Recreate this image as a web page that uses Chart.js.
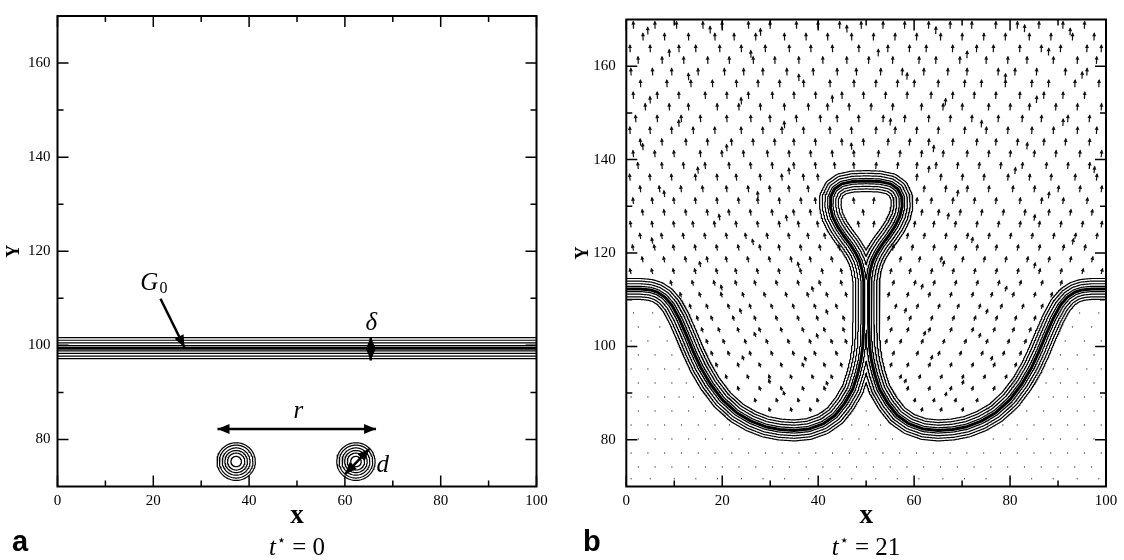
<!DOCTYPE html>
<html lang="en">
<head>
<meta charset="UTF-8">
<title>G-field contours, t* = 0 and t* = 21</title>
<script src="https://cdn.jsdelivr.net/npm/chart.js"></script>
<style>
  body { margin: 0; background: #fff; }
  #wrap { position: relative; width: 1124px; height: 560px; overflow: hidden; }
  .panel { position: absolute; top: 0; width: 562px; height: 560px; }
  .tag { position: absolute; font: bold 29px "Liberation Sans", Arial, sans-serif; line-height: 1; }
  .time { position: absolute; font: 25px "Liberation Serif", "Times New Roman", serif; line-height: 1;
          transform: translateX(-50%); white-space: nowrap; }
  .time .star { font: 15px "DejaVu Sans", sans-serif; position: relative; top: -10px; margin-left: 1px; margin-right: 6px; }
</style>
</head>
<body>
<div id="wrap">
  <div class="panel" style="left:0"><canvas id="chartA" width="562" height="560"></canvas></div>
  <div class="panel" style="left:562px"><canvas id="chartB" width="562" height="560"></canvas></div>
  <div class="tag" style="left:12px; top:527px">a</div>
  <div class="time" style="left:297px; top:534px"><i>t</i><span class="star">⋆</span>= 0</div>
  <div class="tag" style="left:583px; top:527px">b</div>
  <div class="time" style="left:866px; top:534px"><i>t</i><span class="star">⋆</span>= 21</div>
</div>
<script>
// ---------- axes ----------
const xTicks = [0, 20, 40, 60, 80, 100];
const xMinorTicks = [10, 30, 50, 70, 90];
const yTicks = [80, 100, 120, 140, 160];
const yMinorTicks = [90, 110, 130, 150];
// G levels drawn on each side of the front G0
const gLevels = [0.56, 1.12, 1.68, 2.24];

// ---------- panel a (t* = 0) ----------
const frontA = 99.4;
const kernelX = [37.3, 62.3];
const kernelY = [75.3, 75.3];
const kernelRings = [1.1, 1.8, 2.35, 2.9, 3.5, 4.0];
const arrowsA = [
  { from: [21.5, 109.9], to: [26.5, 99.6], heads: 'end' },    // G0 pointer
  { from: [65.4, 101.8], to: [65.4, 96.8], heads: 'both' },   // delta
  { from: [33.4, 82.2], to: [66.5, 82.2], heads: 'both' },    // r
  { from: [60.0, 72.6], to: [65.1, 78.0], heads: 'both' }     // d
];
const mathLabelsA = [
  { text: 'G', sub: '0', x: 17.3, y: 111.8, align: 'left' },
  { text: 'δ', x: 65.5, y: 103.2, align: 'center' },
  { text: 'r', x: 50.3, y: 84.6, align: 'center' },
  { text: 'd', x: 66.6, y: 73.1, align: 'left' }
];

// ---------- panel b (t* = 21) ----------
const frontBX = [0, 3, 5, 6.5, 8, 9.5, 11, 12.5, 14, 15.5, 17.5, 20, 23, 26, 29, 32, 35, 38, 41, 43.5,
  45.5, 47.2, 48.2, 48.9, 49.3, 49.5, 49.5, 49.5, 49.1, 48.6, 47.8, 46.7, 45.3, 44.0, 43.0, 42.5, 42.6, 43.4, 44.9, 47.2,
  50, 52.8, 55.1, 56.6, 57.4, 57.5, 57.0, 56.0, 54.7, 53.3, 52.2, 51.4, 50.9, 50.5, 50.5, 50.5, 50.7, 51.1, 51.8, 52.8,
  54.5, 56.5, 59, 62, 65, 68, 71, 74, 77, 80, 82.5, 84.5, 86, 87.5, 89, 90.5, 92, 93.5, 95, 97, 100];
const frontBY = [112.3, 112.3, 112.1, 111.6, 110.6, 108.8, 106, 102.5, 98.8, 95.5, 92, 88.6, 85.8, 84, 82.8, 82.2, 82, 82.3, 83.4, 85.2,
  87.8, 90.8, 94, 97, 100, 105, 110, 114, 116.5, 118.3, 120, 121.8, 123.7, 125.7, 127.8, 130, 132, 133.7, 134.8, 135.3,
  135.4, 135.3, 134.8, 133.7, 132, 130, 127.8, 125.7, 123.7, 121.8, 120, 118.3, 116.5, 114, 110, 105, 100, 97, 94, 90.8,
  87.8, 85.2, 83.4, 82.3, 82, 82.2, 82.8, 84, 85.8, 88.6, 92, 95.5, 98.8, 102.5, 106, 108.8, 110.6, 111.6, 112.1, 112.3, 112.3];

// velocity arrows: [y, length, outward tilt, x positions]
const quiverRows = [
  [168.0, 1.55, 0.03, [1.5, 6, 10.5, 16, 20, 25.5, 30, 35.5, 40, 44.5, 49, 53.5, 58, 63, 67.5, 72, 77, 81.5, 86, 91, 95.5]],
  [165.5, 1.55, 0.03, [3.5, 8, 13, 18.5, 22.5, 27, 33, 37.5, 42, 47, 51.5, 56, 60.5, 65.5, 70, 74.5, 79, 84, 88.5, 93, 97.5]],
  [163.0, 1.55, 0.03, [0.8, 5, 11, 14.5, 19.5, 24, 29, 34, 38.5, 43, 48.5, 54.5, 59, 62.5, 68, 73, 76.5, 82, 86.5, 90.5, 96, 99]],
  [160.5, 1.55, 0.04, [2.5, 7.5, 12, 17, 21.5, 26.5, 31, 36, 41, 46, 50.5, 55.5, 61, 64.5, 69.5, 75, 79.5, 83.5, 89, 94, 98]],
  [158.0, 1.55, 0.04, [1, 5.5, 9.5, 15, 20.5, 24.5, 28.5, 33.5, 39, 44, 48, 53, 57.5, 62, 67, 71, 77.5, 81, 85.5, 91.5, 96]],
  [155.5, 1.55, 0.04, [3, 8.5, 13.5, 18, 23, 27.5, 32, 37, 42.5, 47.5, 52, 56.5, 60, 65, 70.5, 74, 79, 84.5, 88, 93.5, 98.5]],
  [153.0, 1.5, 0.05, [1.5, 6.5, 11, 16.5, 21, 25.5, 30.5, 35, 39.5, 45, 49.5, 54, 58.5, 63.5, 68, 72.5, 77, 82, 87, 91, 95.5]],
  [150.5, 1.5, 0.05, [4, 9, 13, 19, 23.5, 28, 33, 38, 42, 46.5, 51, 55.5, 61.5, 66, 70, 75.5, 80, 84, 89.5, 94, 99]],
  [148.0, 1.5, 0.06, [2, 6.5, 11.5, 15.5, 21, 26, 30, 35.5, 40.5, 44, 48.5, 53.5, 58, 63, 67.5, 72, 77.5, 82.5, 86.5, 92, 96.5]],
  [145.5, 1.5, 0.06, [0.8, 5, 9.5, 14, 18.5, 24, 28.5, 32.5, 37, 42.5, 47, 52, 56, 60.5, 65, 70.5, 75, 79.5, 84.5, 89, 94, 98]],
  [143.0, 1.45, 0.08, [3, 7.5, 12.5, 17, 22, 26.5, 31, 35, 39.5, 45, 49.5, 54.5, 59, 63, 68, 73, 77, 81.5, 87, 91.5, 96.5]],
  [140.5, 1.45, 0.08, [1.5, 6, 10, 15.5, 20, 24.5, 29.5, 34, 38.5, 43, 47.5, 52.5, 57, 61.5, 66, 71, 75.5, 80, 85, 89.5, 94.5, 99]],
  [138.0, 1.4, 0.1, [2.5, 7.5, 12, 16.5, 21.5, 26, 30.5, 35, 39.5, 43.5, 47.5, 52, 56.5, 60.5, 64.5, 69, 73.5, 78, 82.5, 87.5, 92, 96.5]],
  [135.5, 1.4, 0.1, [0.8, 5, 9.5, 14.5, 19, 23, 28, 32.5, 37, 40, 60.5, 65.5, 70, 74.5, 79.5, 84, 88.5, 93.5, 98]],
  [133.0, 1.4, 0.12, [3, 7, 11.5, 16, 21, 25.5, 30, 34, 38, 62, 66.5, 71, 75.5, 80.5, 85, 90, 94.5, 99]],
  [130.5, 1.35, 0.12, [1.5, 5.5, 10, 14.5, 19, 23.5, 27.5, 32, 36.5, 39.5, 47.5, 51.5, 60.5, 63.5, 68, 72.5, 77, 82, 86.5, 91, 96]],
  [128.0, 1.3, 0.15, [3.5, 8, 12.5, 17, 21.5, 26, 30.5, 35, 38.5, 49.5, 61.5, 65, 69.5, 74, 78.5, 83, 88, 92.5, 97]],
  [125.5, 1.3, 0.15, [1, 5.5, 10, 14, 18.5, 23, 27.5, 32, 36, 40, 48.5, 51.5, 60, 64, 68.5, 73, 77.5, 82, 86, 90.5, 95, 99]],
  [123.0, 1.25, 0.18, [3, 7.5, 12, 16.5, 21, 25, 29.5, 34, 38, 41.5, 58.5, 62, 66.5, 71, 75.5, 80, 84.5, 89, 93.5, 98]],
  [120.5, 1.25, 0.2, [1.5, 6, 10, 14.5, 19, 23.5, 28, 32, 36.5, 40.5, 44.5, 55.5, 59.5, 64, 68.5, 73, 77, 81.5, 86, 91, 95.5]],
  [118.0, 1.2, 0.22, [3.5, 8, 12.5, 17, 21, 25.5, 30, 34.5, 38.5, 43, 57, 61, 65.5, 70, 74.5, 79, 83.5, 88, 92.5, 97]],
  [115.5, 1.15, 0.25, [1, 5.5, 10, 14.5, 19, 23, 27.5, 32, 36.5, 41, 45, 55, 59, 63.5, 68, 72.5, 77, 81.5, 86, 90.5, 95, 99]],
  [113.0, 1.1, 0.28, [9.5, 14, 18.5, 23, 27, 31.5, 36, 40.5, 45, 55.5, 60, 64, 68.5, 73, 77.5, 82, 86.5, 90.5]],
  [110.5, 1.05, 0.3, [11.5, 15.5, 20, 24.5, 29, 33.5, 38, 42, 46, 54.5, 58.5, 63, 67.5, 72, 76, 80.5, 85, 88.5]],
  [108.0, 1.05, 0.32, [13.5, 17, 21.5, 26, 30.5, 35, 39.5, 44, 56, 60.5, 65, 69, 73.5, 78, 82.5, 86.5]],
  [105.5, 1.0, 0.34, [15, 18, 22.5, 27, 31.5, 36, 40, 45.5, 54.5, 59, 63.5, 68, 72.5, 77, 81, 85]],
  [103.0, 1.0, 0.35, [16, 19.5, 23.5, 28, 32.5, 37, 41.5, 45.5, 55, 58.5, 63, 67.5, 72, 76.5, 80.5, 84]],
  [100.5, 1.0, 0.35, [17, 20.5, 25, 29.5, 34, 38.5, 43, 46, 54, 57, 61.5, 66, 70.5, 75, 79.5, 83]],
  [98.0, 0.95, 0.35, [18, 21.5, 26, 30.5, 35, 39.5, 44, 55.5, 60.5, 65, 69.5, 74, 78.5, 82]],
  [95.5, 0.95, 0.35, [19, 23.5, 28, 32.5, 37, 41.5, 45, 55, 58.5, 63, 67.5, 72, 76.5, 81]],
  [93.0, 0.9, 0.35, [21, 25.5, 30, 34.5, 39, 43, 57, 61, 65.5, 70, 74.5, 79]],
  [90.5, 0.9, 0.35, [23.5, 28, 32.5, 37, 41.5, 58.5, 63, 67.5, 72, 76.5]],
  [88.0, 0.85, 0.3, [27, 31.5, 36, 40, 60, 64, 68.5, 73]],
  [86.0, 0.85, 0.3, [30, 34.5, 38.5, 61.5, 65.5, 70]]
];
// arrows lying between the rows: [x, y, length, outward tilt]
const quiverExtra = [
  [4.5, 166.8, 1.55, 0.03], [17.5, 167, 1.55, 0.03], [28, 166.5, 1.55, 0.03], [46, 167.2, 1.55, 0.03],
  [64.5, 166.9, 1.55, 0.03], [83, 167.3, 1.55, 0.03], [92.5, 166.6, 1.55, 0.03],
  [9, 162, 1.55, 0.04], [26, 161.8, 1.55, 0.04], [52.5, 162.1, 1.55, 0.04], [71, 161.7, 1.55, 0.04], [88, 162.3, 1.55, 0.04],
  [13, 157, 1.5, 0.04], [36, 156.8, 1.5, 0.04], [58.5, 157.1, 1.5, 0.04], [79, 156.9, 1.5, 0.04], [95, 157.3, 1.5, 0.04],
  [5, 152, 1.5, 0.05], [24, 151.8, 1.5, 0.05], [43, 152.2, 1.5, 0.05], [66.5, 151.6, 1.5, 0.05], [85.5, 152.1, 1.5, 0.05],
  [11, 147, 1.5, 0.06], [33, 146.7, 1.5, 0.06], [55, 147.3, 1.5, 0.06], [74, 146.9, 1.5, 0.06], [91, 147.2, 1.5, 0.06],
  [3.5, 142, 1.45, 0.08], [21, 141.8, 1.45, 0.08], [47, 142.1, 1.45, 0.08], [64, 141.6, 1.45, 0.08], [83.5, 142.2, 1.45, 0.08],
  [15, 137, 1.4, 0.1], [34, 136.8, 1.4, 0.1], [63, 137.2, 1.4, 0.1], [81, 136.9, 1.4, 0.1], [97.5, 137.1, 1.4, 0.1],
  [8, 132, 1.35, 0.12], [27.5, 131.8, 1.35, 0.12], [69, 132.1, 1.35, 0.12], [88, 131.7, 1.35, 0.12],
  [19.5, 127, 1.3, 0.15], [33.5, 126.8, 1.3, 0.15], [67, 127.2, 1.3, 0.15], [85, 126.9, 1.3, 0.15],
  [5.5, 122, 1.25, 0.18], [26.5, 121.7, 1.25, 0.18], [72, 122.1, 1.25, 0.18], [93, 121.8, 1.25, 0.18],
  [15.5, 117, 1.2, 0.22], [36, 116.8, 1.2, 0.22], [66, 117.1, 1.2, 0.22], [85, 116.7, 1.2, 0.22],
  [20, 112, 1.1, 0.28], [39, 111.7, 1.1, 0.28], [61.5, 112.2, 1.1, 0.28], [79, 111.8, 1.1, 0.28],
  [24, 107, 1.05, 0.32], [42, 106.8, 1.05, 0.32], [58, 107.1, 1.05, 0.32], [75, 106.9, 1.05, 0.32],
  [27, 102, 1.0, 0.35], [40, 101.7, 1.0, 0.35], [62, 102.2, 1.0, 0.35], [73.5, 101.8, 1.0, 0.35],
  [24.5, 97, 0.95, 0.35], [37.5, 96.8, 0.95, 0.35], [63.5, 97.1, 0.95, 0.35], [76, 96.9, 0.95, 0.35],
  [30, 92, 0.9, 0.35], [42, 91.6, 0.9, 0.35], [58, 92.1, 0.9, 0.35], [70, 91.8, 0.9, 0.35],
  [33, 89.5, 0.85, 0.3], [66.5, 89.3, 0.85, 0.3]
];
// slow fluid below the front: [y, x positions]
const dotRows = [
  [107, [1.5, 5.5, 94.5, 98.5]],
  [104, [2.5, 7, 93, 97]],
  [101, [1, 4.5, 8.5, 91.5, 95.5, 99]],
  [98, [2.5, 6, 9.5, 90.5, 94, 97.5]],
  [95, [1, 4.5, 8, 11, 89, 92, 96, 99]],
  [92, [2.5, 6, 9.5, 12.5, 87.5, 90.5, 94, 97.5]],
  [89, [1, 4.5, 8, 11, 14, 86, 89, 92, 95.5, 99]],
  [86, [2.5, 6, 9.5, 13, 16.5, 50, 83.5, 87, 90.5, 94, 97.5]],
  [83, [1, 4.5, 8, 11.5, 15, 18.5, 21.5, 47, 50.5, 53, 78.5, 81.5, 85, 88.5, 92, 95.5, 99]],
  [80, [2.5, 6, 9.5, 13, 16.5, 20, 23.5, 45, 48.5, 52, 55.5, 76.5, 80, 83.5, 87, 90.5, 94, 97.5]],
  [77, [1, 4.5, 8, 11.5, 15, 18.5, 22, 25.5, 29, 32.5, 36, 39.5, 43, 46.5, 50, 53.5, 57, 60.5, 64, 67.5, 71, 74.5, 78, 81.5, 85, 88.5, 92, 95.5, 99]],
  [74, [2.5, 6, 9.5, 13, 16.5, 20, 23.5, 27, 30.5, 34, 37.5, 41, 44.5, 48, 51.5, 55, 58.5, 62, 65.5, 69, 72.5, 76, 79.5, 83, 86.5, 90, 93.5, 97]],
  [71.5, [1, 5, 10, 14.5, 19, 24, 28.5, 33, 38, 42.5, 47, 52, 56.5, 61, 66, 70.5, 75, 80, 84.5, 89, 94, 98.5]]
];

// ---------- helpers ----------
const serif = '"Liberation Serif", "Times New Roman", serif';

// unsigned distance to the front polyline on a grid, then iso-lines of it
function distanceField(fx, fy) {
  const h = 0.2, nx = 501, ny = 501;
  const D = new Float32Array(nx * ny);
  const n = fx.length - 1;
  for (let j = 0; j < ny; j++) {
    const py = 70 + j * h;
    for (let i = 0; i < nx; i++) {
      const px = i * h;
      let best = 1e9;
      if (py > 140) { D[j * nx + i] = 99; continue; }
      for (let s = 0; s < n; s++) {
        const ax = fx[s], ay = fy[s], dx = fx[s + 1] - ax, dy = fy[s + 1] - ay;
        let t = ((px - ax) * dx + (py - ay) * dy) / (dx * dx + dy * dy);
        t = t < 0 ? 0 : t > 1 ? 1 : t;
        const qx = ax + t * dx - px, qy = ay + t * dy - py;
        const d = qx * qx + qy * qy;
        if (d < best) best = d;
      }
      D[j * nx + i] = Math.sqrt(best);
    }
  }
  return { D, nx, ny, h };
}

const caseEdges = {
  1: [[3, 0]], 2: [[0, 1]], 3: [[3, 1]], 4: [[1, 2]], 5: [[3, 0], [1, 2]], 6: [[0, 2]], 7: [[3, 2]],
  8: [[2, 3]], 9: [[0, 2]], 10: [[0, 1], [2, 3]], 11: [[1, 2]], 12: [[3, 1]], 13: [[0, 1]], 14: [[3, 0]]
};

function contourLines(field, L) {
  const { D, nx, ny, h } = field;
  const pts = new Map(), adj = new Map();
  const val = (i, j) => D[j * nx + i];
  function edgePoint(e, i, j) {
    let key, i0, j0, i1, j1;
    if (e === 0) { key = 2 * (j * nx + i); i0 = i; j0 = j; i1 = i + 1; j1 = j; }
    else if (e === 1) { key = 2 * (j * nx + i + 1) + 1; i0 = i + 1; j0 = j; i1 = i + 1; j1 = j + 1; }
    else if (e === 2) { key = 2 * ((j + 1) * nx + i); i0 = i; j0 = j + 1; i1 = i + 1; j1 = j + 1; }
    else { key = 2 * (j * nx + i) + 1; i0 = i; j0 = j; i1 = i; j1 = j + 1; }
    if (!pts.has(key)) {
      const v0 = val(i0, j0), v1 = val(i1, j1);
      const t = (L - v0) / (v1 - v0);
      pts.set(key, [(i0 + t * (i1 - i0)) * h, 70 + (j0 + t * (j1 - j0)) * h]);
    }
    return key;
  }
  function link(a, b) {
    if (!adj.has(a)) adj.set(a, []);
    if (!adj.has(b)) adj.set(b, []);
    adj.get(a).push(b); adj.get(b).push(a);
  }
  for (let j = 0; j < ny - 1; j++) {
    for (let i = 0; i < nx - 1; i++) {
      const idx = (val(i, j) > L ? 1 : 0) | (val(i + 1, j) > L ? 2 : 0) |
                  (val(i + 1, j + 1) > L ? 4 : 0) | (val(i, j + 1) > L ? 8 : 0);
      if (idx === 0 || idx === 15) continue;
      for (const [e1, e2] of caseEdges[idx]) link(edgePoint(e1, i, j), edgePoint(e2, i, j));
    }
  }
  const seen = new Set(), lines = [];
  function walk(s) {
    const out = [s]; seen.add(s);
    let cur = s;
    for (;;) {
      const nxt = adj.get(cur).find(k => !seen.has(k));
      if (nxt === undefined) break;
      seen.add(nxt); out.push(nxt); cur = nxt;
    }
    return out;
  }
  for (const [k, nb] of adj) if (nb.length === 1 && !seen.has(k)) lines.push(walk(k));
  for (const k of adj.keys()) if (!seen.has(k)) { const l = walk(k); l.push(l[0]); lines.push(l); }
  return lines.map(l => l.map(k => pts.get(k)));
}

function linesToData(lines) {
  const out = [];
  lines.forEach(l => {
    l.forEach(p => out.push({ x: p[0], y: p[1] }));
    out.push({ x: l[l.length - 1][0], y: null });
  });
  return out;
}

function thinLine(data) {
  return { data, borderColor: '#000', borderWidth: 1.2, pointRadius: 0, tension: 0,
           borderJoinStyle: 'round', spanGaps: false };
}

// ---------- plugins ----------
const framePlugin = {
  id: 'frame',
  afterDraw(chart) {
    const { ctx, chartArea: a, scales: { x, y } } = chart;
    ctx.save();
    ctx.strokeStyle = '#000';
    ctx.lineWidth = 1.5;
    ctx.beginPath();
    const tick = (v, len, horiz) => {
      if (horiz) {
        const p = x.getPixelForValue(v);
        ctx.moveTo(p, a.bottom); ctx.lineTo(p, a.bottom - len);
        ctx.moveTo(p, a.top); ctx.lineTo(p, a.top + len);
      } else {
        const p = y.getPixelForValue(v);
        ctx.moveTo(a.left, p); ctx.lineTo(a.left + len, p);
        ctx.moveTo(a.right, p); ctx.lineTo(a.right - len, p);
      }
    };
    xTicks.forEach(v => tick(v, 11, true));
    xMinorTicks.forEach(v => tick(v, 6, true));
    yTicks.forEach(v => tick(v, 11, false));
    yMinorTicks.forEach(v => tick(v, 6, false));
    ctx.stroke();
    ctx.lineWidth = 2;
    ctx.strokeRect(a.left, a.top, a.right - a.left, a.bottom - a.top);
    ctx.restore();
  }
};

const arrowHeadPlugin = {
  id: 'arrowHeads',
  afterDatasetsDraw(chart) {
    const ctx = chart.ctx;
    chart.data.datasets.forEach((ds, i) => {
      if (!ds.heads) return;
      const pts = chart.getDatasetMeta(i).data;
      const p0 = pts[0], p1 = pts[pts.length - 1];
      const head = (tip, tail) => {
        const ang = Math.atan2(tip.y - tail.y, tip.x - tail.x);
        ctx.save();
        ctx.translate(tip.x, tip.y); ctx.rotate(ang);
        ctx.beginPath();
        ctx.moveTo(0, 0); ctx.lineTo(-12, -5); ctx.lineTo(-12, 5); ctx.closePath();
        ctx.fillStyle = '#000'; ctx.fill();
        ctx.restore();
      };
      head(p1, p0);
      if (ds.heads === 'both') head(p0, p1);
    });
  }
};

const mathLabelPlugin = {
  id: 'mathLabels',
  afterDatasetsDraw(chart, args, opts) {
    if (!opts.items) return;
    const { ctx, scales: { x, y } } = chart;
    ctx.save();
    ctx.fillStyle = '#000';
    ctx.textBaseline = 'alphabetic';
    opts.items.forEach(it => {
      const px = x.getPixelForValue(it.x), py = y.getPixelForValue(it.y);
      ctx.font = 'italic 25px ' + serif;
      ctx.textAlign = it.align;
      ctx.fillText(it.text, px, py);
      if (it.sub) {
        const w = ctx.measureText(it.text).width;
        ctx.font = '16px ' + serif;
        ctx.textAlign = 'left';
        ctx.fillText(it.sub, px + w + 1, py + 3);
      }
    });
    ctx.restore();
  }
};

const quiverPlugin = {
  id: 'quiver',
  beforeDatasetsDraw(chart, args, opts) {
    if (!opts.on) return;
    const { ctx, chartArea: a, scales: { x, y } } = chart;
    ctx.save();
    ctx.beginPath(); ctx.rect(a.left, a.top, a.right - a.left, a.bottom - a.top); ctx.clip();
    ctx.strokeStyle = '#111'; ctx.fillStyle = '#111'; ctx.lineWidth = 1.2;
    const arrow = (xx, yy, len, tilt) => {
      const u = (xx < 50 ? -tilt : tilt) * len;
      const x0 = x.getPixelForValue(xx), y0 = y.getPixelForValue(yy);
      const x1 = x.getPixelForValue(xx + u), y1 = y.getPixelForValue(yy + len);
      ctx.beginPath(); ctx.moveTo(x0, y0); ctx.lineTo(x1, y1); ctx.stroke();
      const ang = Math.atan2(y1 - y0, x1 - x0);
      ctx.save(); ctx.translate(x1, y1); ctx.rotate(ang);
      ctx.beginPath(); ctx.moveTo(1, 0); ctx.lineTo(-3, -2); ctx.lineTo(-3, 2); ctx.closePath(); ctx.fill();
      ctx.restore();
    };
    quiverRows.forEach(([yy, len, tilt, xs]) => xs.forEach(xx => arrow(xx, yy, len, tilt)));
    quiverExtra.forEach(([xx, yy, len, tilt]) => arrow(xx, yy, len, tilt));
    ctx.strokeStyle = '#555'; ctx.lineWidth = 1;
    dotRows.forEach(([yy, xs]) => {
      xs.forEach(xx => {
        const x0 = x.getPixelForValue(xx), y0 = y.getPixelForValue(yy);
        ctx.beginPath(); ctx.moveTo(x0, y0); ctx.lineTo(x0, y0 - 1.6); ctx.stroke();
      });
    });
    ctx.restore();
  }
};

function options(cfg) {
  return {
    responsive: false,
    animation: false,
    events: [],
    layout: { padding: { left: 0, top: 8, right: cfg.padRight, bottom: 0 } },
    plugins: {
      legend: { display: false },
      tooltip: { enabled: false },
      mathLabels: { items: cfg.labels || null },
      quiver: { on: !!cfg.quiver }
    },
    scales: {
      x: {
        type: 'linear', min: 0, max: 100,
        border: { display: false },
        grid: { display: false, drawTicks: false },
        afterBuildTicks: s => { s.ticks = xTicks.map(v => ({ value: v })); },
        ticks: { color: '#000', font: { family: serif, size: 15 }, padding: 6, maxRotation: 0, autoSkip: false },
        title: { display: true, text: 'x', color: '#000',
                 font: { family: serif, size: 27, weight: 'bold' }, padding: { top: 0, bottom: 27.8 } },
        afterFit: s => { s.height = 73.5; }
      },
      y: {
        type: 'linear', min: 70, max: 170,
        border: { display: false },
        grid: { display: false, drawTicks: false },
        afterBuildTicks: s => { s.ticks = yTicks.map(v => ({ value: v })); },
        ticks: { color: '#000', font: { family: serif, size: 15 }, padding: cfg.yPad, autoSkip: false },
        title: { display: true, text: 'Y', color: '#000',
                 font: { family: serif, size: 18, weight: 'bold' }, padding: { top: cfg.yTitlePad, bottom: 0 } },
        afterFit: s => { s.width = cfg.yWidth; }
      }
    }
  };
}

// ---------- panel a datasets ----------
const dsA = [];
gLevels.forEach(L => {
  dsA.push(thinLine([{ x: 0, y: frontA + L }, { x: 100, y: frontA + L }, { x: 100, y: null },
                     { x: 0, y: frontA - L }, { x: 100, y: frontA - L }]));
});
dsA.push({ data: [{ x: 0, y: frontA }, { x: 100, y: frontA }], borderColor: '#000', borderWidth: 3, pointRadius: 0 });
kernelX.forEach((cx, k) => {
  kernelRings.forEach(r => {
    const ring = [];
    for (let a = 0; a <= 360; a += 5) {
      const t = a * Math.PI / 180;
      ring.push({ x: cx + r * Math.cos(t), y: kernelY[k] + r * Math.sin(t) });
    }
    dsA.push(thinLine(ring));
  });
});
arrowsA.forEach(ar => {
  dsA.push({ data: [{ x: ar.from[0], y: ar.from[1] }, { x: ar.to[0], y: ar.to[1] }],
             borderColor: '#000', borderWidth: 2.5, pointRadius: 0, heads: ar.heads });
});

new Chart(document.getElementById('chartA'), {
  type: 'line',
  data: { datasets: dsA },
  options: options({ padRight: 25.5, yWidth: 57.5, yPad: 7, yTitlePad: 3.2, labels: mathLabelsA }),
  plugins: [quiverPlugin, arrowHeadPlugin, mathLabelPlugin, framePlugin]
});

// ---------- panel b datasets ----------
const fieldB = distanceField(frontBX, frontBY);
const dsB = gLevels.map(L => thinLine(linesToData(contourLines(fieldB, L))));
dsB.push({ data: frontBX.map((x, i) => ({ x, y: frontBY[i] })), borderColor: '#000', borderWidth: 3,
           pointRadius: 0, tension: 0, borderJoinStyle: 'round' });

new Chart(document.getElementById('chartB'), {
  type: 'line',
  data: { datasets: dsB },
  options: options({ padRight: 18, yWidth: 64.3, yPad: 10.5, yTitlePad: 10.7, quiver: true }),
  plugins: [quiverPlugin, arrowHeadPlugin, mathLabelPlugin, framePlugin]
});
</script>
</body>
</html>
